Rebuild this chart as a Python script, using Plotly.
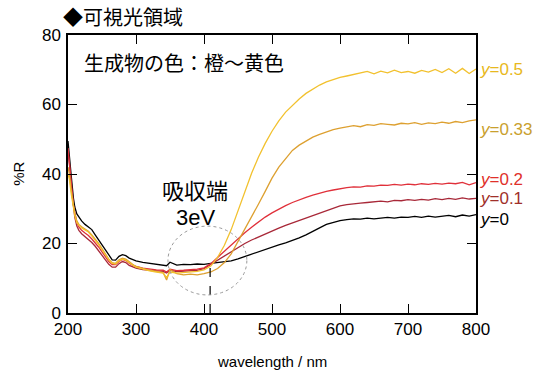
import plotly.graph_objects as go

wavelength = [200, 202, 205, 208, 210, 213, 216, 220, 225, 230, 235, 240, 245, 250, 255, 260, 265, 270, 275, 280,
              285, 290, 295, 300, 310, 320, 330, 340, 345, 350, 360, 370, 380, 390, 400, 410, 420, 430, 440, 450,
              460, 470, 480, 490, 500, 510, 520, 530, 540, 550, 560, 570, 580, 590, 600, 610, 620, 630, 640, 650,
              660, 670, 680, 690, 700, 710, 720, 730, 740, 750, 760, 770, 780, 790, 800]

r_y0 = [49.5, 46.0, 39.0, 33.0, 30.5, 28.5, 27.5, 26.5, 25.5, 24.8, 24.0, 22.5, 21.0, 19.5, 18.0, 16.5, 15.3, 15.2, 16.3, 16.8,
        16.5, 15.8, 15.3, 15.0, 14.6, 14.3, 14.0, 13.9, 13.6, 14.6, 13.8, 14.0, 13.9, 14.1, 14.0, 14.3, 14.5, 14.7, 15.0, 15.6,
        16.3, 17.0, 17.5, 18.3, 19.0, 19.6, 20.2, 20.8, 21.6, 22.5, 23.4, 24.5, 25.5, 26.1, 26.6, 26.9, 27.1, 27.0, 27.3, 27.1,
        27.4, 27.5, 27.3, 27.6, 27.5, 27.8, 27.5, 27.9, 27.6, 27.8, 28.1, 27.7, 28.2, 27.9, 28.3]

r_y01 = [46.0, 43.0, 36.0, 30.0, 27.5, 25.0, 23.8, 22.8, 22.0, 21.2, 20.3, 19.2, 18.0, 16.8, 15.3, 14.0, 13.2, 13.2, 14.2, 14.8,
         14.5, 13.7, 13.2, 12.9, 12.5, 12.3, 12.1, 12.0, 11.5, 12.3, 11.9, 12.0, 12.1, 12.3, 12.8, 14.0, 15.3, 16.6, 17.8, 19.0,
         20.0, 21.0, 21.9, 22.8, 23.6, 24.4, 25.2, 25.9, 26.6, 27.3, 28.0, 28.7, 29.4, 30.1, 30.8, 31.2, 31.5, 31.6, 31.8, 31.9,
         32.2, 32.0, 32.4, 32.3, 32.6, 32.4, 32.7, 32.5, 32.9, 32.6, 33.0, 32.7, 33.1, 32.8, 33.0]

r_y02 = [47.5, 44.0, 37.0, 31.0, 28.5, 26.0, 24.8, 23.8, 23.0, 22.3, 21.3, 20.2, 19.0, 17.6, 16.2, 14.8, 13.9, 13.9, 14.8, 15.4,
         15.1, 14.3, 13.8, 13.4, 12.9, 12.6, 12.4, 12.3, 11.8, 12.6, 12.2, 12.3, 12.4, 12.6, 13.0, 14.2, 16.0, 17.8, 19.6, 21.4,
         23.1, 24.7, 26.2, 27.6, 28.8, 29.9, 30.9, 31.8, 32.6, 33.3, 33.9, 34.5, 35.0, 35.4, 35.8, 36.1, 36.3, 36.2, 36.6, 36.5,
         36.8, 36.7, 37.0, 36.8, 37.1, 36.9, 37.2, 37.0, 37.3, 37.1, 37.4, 37.2, 37.6, 36.9, 37.5]

r_y033 = [42.0, 40.0, 35.0, 30.5, 28.5, 26.5, 25.5, 24.8, 24.2, 23.5, 22.5, 21.3, 20.0, 18.5, 17.0, 15.5, 14.5, 14.3, 15.3, 15.8,
          15.5, 14.7, 14.0, 13.4, 12.8, 12.3, 12.0, 11.6, 9.5, 12.5, 11.3, 11.0, 11.2, 11.0, 11.3, 11.8, 12.8, 14.5, 17.0, 20.5,
          24.0, 27.5, 31.3, 35.0, 38.8, 42.0, 44.5, 46.8, 48.3, 49.5, 50.6, 51.4, 52.2, 52.8, 53.2, 53.5, 53.9, 53.6, 54.2, 54.0,
          54.5, 54.3, 54.1, 54.6, 54.4, 54.8, 54.3, 54.7, 54.5, 54.9, 54.6, 55.1, 54.8, 55.3, 55.6]

r_y05 = [40.0, 38.5, 34.0, 30.0, 28.0, 26.0, 25.2, 24.5, 24.0, 23.3, 22.2, 21.0, 19.7, 18.2, 16.7, 15.3, 14.3, 14.1, 15.0, 15.5,
         15.2, 14.4, 13.8, 13.2, 12.6, 12.1, 11.8, 11.5, 10.2, 11.8, 11.5, 11.6, 11.9, 12.0, 12.4, 13.5, 16.0, 19.5, 24.0, 29.5,
         35.0, 40.2, 44.8, 48.8, 52.3, 55.3, 57.8, 59.8, 61.6, 63.2, 64.5, 65.6, 66.5, 67.2, 67.8, 68.2, 68.6, 68.9, 69.5, 68.8,
         69.6, 69.1, 69.9, 69.2, 69.5, 69.0, 69.8, 69.3, 70.1, 69.2, 70.3, 69.0, 70.4, 68.9, 70.2]

series_names = ["y=0", "y=0.1", "y=0.2", "y=0.33", "y=0.5"]
series_values = [r_y0, r_y01, r_y02, r_y033, r_y05]
line_colors = ["#000000", "#A82838", "#E0303A", "#DDA030", "#F2C12E"]
label_colors = ["#000000", "#A0302A", "#E0302A", "#C9A02E", "#E8B820"]
label_y = [26.8, 32.9, 38.4, 52.7, 70.0]

x_ticks = [200, 300, 400, 500, 600, 700, 800]
y_ticks = [0, 20, 40, 60, 80]

fig = go.Figure()
for name, vals, col in zip(series_names, series_values, line_colors):
    fig.add_trace(go.Scatter(x=wavelength, y=vals, mode="lines", name=name,
                             line=dict(color=col, width=1.3), showlegend=False))

axis_font = dict(family="Liberation Sans, Arial, sans-serif", size=17, color="black")
fig.update_layout(
    width=550, height=378,
    margin=dict(l=68, r=74, t=35, b=65),
    paper_bgcolor="white", plot_bgcolor="white",
    xaxis=dict(range=[200, 800], tickvals=x_ticks, ticks="inside", ticklen=9, tickwidth=1.3,
               tickcolor="black", showline=True, linecolor="black", linewidth=1.5, mirror="ticks",
               showgrid=False, zeroline=False, tickfont=axis_font),
    yaxis=dict(range=[0, 80], tickvals=y_ticks, ticks="inside", ticklen=9, tickwidth=1.3,
               tickcolor="black", showline=True, linecolor="black", linewidth=1.5, mirror="ticks",
               showgrid=False, zeroline=False, tickfont=axis_font, ticklabelstandoff=2),
)

# absorption edge marker and ellipse
fig.add_shape(type="line", x0=409, x1=409, y0=0, y1=14.2, xref="x", yref="y",
              line=dict(color="black", width=1.2, dash="dash"))
fig.add_shape(type="circle", x0=347, x1=463, y0=5.2, y1=25.0, xref="x", yref="y",
              line=dict(color="#999999", width=1, dash="dot"))

for name, col, ly in zip(series_names, label_colors, label_y):
    val = name.split("=")[1]
    fig.add_annotation(x=800, y=ly, xref="x", yref="y", xanchor="left", yanchor="middle", xshift=2,
                       text="<i>y</i>=" + val, showarrow=False,
                       font=dict(family="Liberation Sans, Arial, sans-serif", size=17, color=col))

cjk = "Noto Sans CJK JP"
fig.add_annotation(x=-0.016, y=1.065, xref="paper", yref="paper", xanchor="left", yanchor="middle",
                   text="◆可視光領域", showarrow=False, font=dict(family=cjk, size=20, color="black"))
fig.add_annotation(x=220.5, y=72.2, xref="x", yref="y", xanchor="left", yanchor="middle",
                   text="生成物の色：橙～黄色", showarrow=False, font=dict(family=cjk, size=20, color="black"))
fig.add_annotation(x=387, y=35.6, xref="x", yref="y", xanchor="center", yanchor="middle",
                   text="吸収端", showarrow=False, font=dict(family=cjk, size=22, color="black"))
fig.add_annotation(x=387, y=27.5, xref="x", yref="y", xanchor="center", yanchor="middle",
                   text="3eV", showarrow=False,
                   font=dict(family="Liberation Sans, Arial, sans-serif", size=22, color="black"))
fig.add_annotation(x=0.5, y=-0.176, xref="paper", yref="paper", xanchor="center", yanchor="middle",
                   text="wavelength / nm", showarrow=False,
                   font=dict(family="Liberation Sans, Arial, sans-serif", size=15, color="black"))
fig.add_annotation(x=-0.123, y=0.50, xref="paper", yref="paper", xanchor="center", yanchor="middle",
                   text="%R", textangle=-90, showarrow=False,
                   font=dict(family="Liberation Sans, Arial, sans-serif", size=15, color="black"))

fig.write_html("out.html", config={"displayModeBar": False},
               post_script="document.body.style.margin='0px';")
